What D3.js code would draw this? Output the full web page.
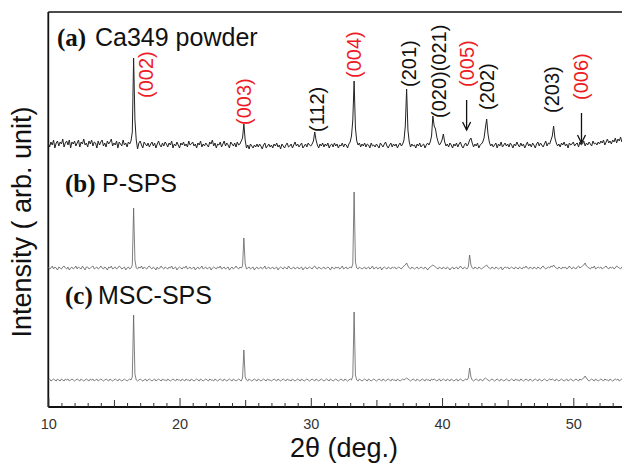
<!DOCTYPE html>
<html>
<head>
<meta charset="utf-8">
<script src="https://cdn.jsdelivr.net/npm/d3@7"></script>
<style>
  body { margin: 0; background: #fff; }
  svg { display: block; }
</style>
</head>
<body>
<svg id="chart" width="622" height="463"></svg>
<script>
// XRD patterns, sampled every 0.1 deg of 2θ from 10 to 54 deg (intensity, arb. unit)
const twoThetaStart = 10;
const twoThetaStep = 0.1;

const powder = [
  3,-1,4,1,6,-2,3,5,0,4,
  2,7,-1,3,5,1,6,-2,4,2,
  5,0,3,6,-1,4,2,7,1,3,
  -1,5,2,6,0,4,3,-2,5,1,
  4,6,0,3,-1,5,2,4,7,0,
  3,1,5,-2,4,2,0,6,1,3,
  -1,4,2,5,14,88,26,6,-3,3,
  5,1,-2,4,2,0,3,-1,2,4,
  0,3,-2,2,5,1,-1,3,0,4,
  2,-1,3,1,5,-2,2,0,4,1,
  -2,3,1,4,0,2,-1,5,1,2,
  4,0,2,-2,3,1,5,-1,2,0,
  3,1,-1,4,2,6,0,3,-2,2,
  1,4,-1,2,5,0,3,1,-2,4,
  2,0,3,-1,4,1,2,5,8,22,
  6,-2,1,-3,2,0,-2,1,-1,2,
  -1,2,0,-3,1,3,-2,0,2,-1,
  1,-2,2,0,3,-1,1,-3,2,0,
  -2,1,3,-1,0,2,-2,1,4,0,
  2,-1,1,3,-2,0,2,-1,3,1,
  0,2,5,14,6,1,-2,2,0,3,
  -1,2,0,3,-2,1,2,-1,3,0,
  2,-2,1,0,3,-1,2,1,-2,2,
  4,10,26,65,18,5,1,3,-1,2,
  0,3,-1,2,1,-2,3,0,1,-1,
  2,0,-2,3,1,-1,2,4,0,-2,
  1,3,-1,2,0,2,-2,1,3,0,
  2,6,20,57,16,4,-1,2,0,1,
  -2,2,0,3,-1,1,2,-2,1,3,
  1,4,10,30,20,17,9,4,1,3,
  6,12,4,0,2,-1,3,1,-2,2,
  0,3,-1,2,4,0,-2,1,3,0,
  2,6,8,3,-1,2,0,3,-2,1,
  2,4,8,18,27,12,4,0,2,-1,
  1,3,-2,2,0,4,-1,1,3,0,
  2,-1,3,1,-2,2,0,4,1,-1,
  3,0,2,-2,1,4,0,2,-1,3,
  1,-2,2,4,0,3,1,-1,2,5,
  0,3,2,6,10,20,8,3,0,2,
  -1,3,1,4,0,2,-2,3,1,2,
  4,0,2,3,-1,4,1,2,5,0,
  3,1,4,2,0,5,2,3,1,4,
  2,5,3,6,1,4,7,3,5,2,
  6,4,8,3,7,5,9,4,6,5,
  7
];

const pSps = [
  1,-1,0,2,-1,1,0,-2,1,0,
  -1,1,2,0,-1,1,-2,0,1,-1,
  0,2,-1,1,0,-1,2,0,-2,1,
  1,-1,0,1,2,-1,0,1,-1,0,
  2,0,-1,1,0,-2,1,0,2,-1,
  0,1,-1,0,2,1,-1,0,1,-2,
  0,1,-1,0,3,60,8,0,-1,1,
  0,2,-1,1,0,-1,1,2,0,-1,
  1,0,-2,1,-1,0,2,0,-1,1,
  0,-1,1,0,2,-1,0,1,-2,0,
  1,0,-1,1,0,2,-1,0,1,-1,
  0,1,-2,0,1,-1,0,2,-1,0,
  1,-1,0,1,-2,0,1,0,-1,1,
  0,2,-1,0,1,-1,0,1,-2,0,
  1,-1,0,2,0,-1,1,0,2,30,
  4,-1,0,1,-1,0,1,-2,0,1,
  -1,0,1,-1,0,2,-1,0,1,-1,
  0,1,-1,0,1,-2,0,1,0,-1,
  1,0,-1,2,0,-1,0,1,-1,0,
  1,-1,0,1,-2,0,1,-1,0,1,
  0,-1,1,2,0,-1,1,0,-1,0,
  1,-1,0,1,0,-2,1,0,-1,1,
  0,1,-1,0,2,-1,0,1,-1,0,
  1,0,4,76,6,0,-1,1,0,-1,
  0,1,-1,0,1,-1,0,2,-1,0,
  1,-1,0,1,-2,0,1,0,-1,1,
  0,-1,1,0,1,-1,0,1,0,-1,
  1,2,3,5,2,0,-1,1,0,-1,
  0,1,-1,0,1,0,-1,1,0,-2,
  0,1,2,3,2,1,0,-1,1,0,
  -1,1,0,-1,1,0,-2,0,1,-1,
  0,1,-1,0,2,0,-1,1,0,-1,
  1,13,3,0,-1,1,0,-1,1,0,
  -1,0,1,2,3,1,0,-1,1,0,
  -1,1,0,-1,0,1,-2,0,1,0,
  1,-1,0,1,0,-1,1,0,-1,1,
  0,-1,1,0,2,0,-1,1,0,-1,
  1,0,-1,1,0,-1,1,2,0,-1,
  0,1,0,2,1,3,1,0,-1,1,
  0,-1,1,0,1,-1,0,2,0,-1,
  1,0,-1,1,2,0,1,2,3,5,
  2,1,0,-1,1,0,2,-1,0,1,
  0,1,-1,0,1,2,0,-1,1,0,
  1,-1,0,2,1,0,-1,1,0,1,
  0
];

const mscSps = [
  0,1,-1,0,1,0,-1,1,0,-1,
  1,0,-1,1,0,1,-1,0,1,0,
  -1,0,1,0,-1,1,0,-1,0,1,
  0,-1,1,0,1,-1,0,1,-1,0,
  1,0,-1,0,1,0,-1,1,0,-1,
  0,1,0,-1,1,0,-1,0,1,0,
  -1,0,1,0,3,65,6,0,-1,0,
  1,0,-1,0,1,-1,0,1,0,-1,
  0,1,-1,0,1,0,-1,1,0,0,
  -1,1,0,-1,0,1,0,-1,1,0,
  0,-1,1,0,-1,1,0,0,-1,1,
  0,-1,0,1,0,-1,1,0,-1,0,
  1,0,-1,1,0,0,-1,1,0,-1,
  0,1,0,-1,1,0,-1,0,1,0,
  -1,1,0,-1,0,1,0,-1,2,30,
  3,0,-1,1,0,-1,0,1,0,-1,
  1,0,-1,0,1,0,-1,1,0,0,
  -1,0,1,0,-1,1,0,-1,0,1,
  0,-1,1,0,0,-1,1,0,-1,0,
  1,0,-1,1,0,-1,0,1,0,-1,
  0,1,0,-1,1,0,-1,0,1,0,
  -1,0,1,0,-1,1,0,-1,0,1,
  0,-1,0,1,0,-1,1,0,-1,0,
  1,0,4,68,5,0,-1,1,0,-1,
  0,1,0,-1,1,0,-1,0,1,0,
  -1,0,1,0,-1,1,0,-1,0,1,
  0,-1,1,0,0,-1,1,0,-1,0,
  1,0,1,2,1,0,-1,0,1,0,
  -1,1,0,-1,0,1,0,-1,1,0,
  0,-1,1,0,1,0,-1,0,1,-1,
  0,1,0,-1,1,0,-1,1,0,-1,
  0,1,-1,0,1,0,-1,0,1,0,
  2,12,3,0,-1,0,1,0,-1,1,
  0,-1,1,2,1,0,-1,0,1,0,
  -1,0,1,0,-1,1,0,-1,0,1,
  0,-1,0,1,0,-1,1,0,0,-1,
  1,0,-1,0,1,0,-1,1,0,-1,
  0,1,0,-1,1,0,-1,0,1,0,
  -1,0,1,0,1,0,-1,1,0,-1,
  0,1,0,-1,0,1,-1,0,1,0,
  -1,0,1,0,-1,1,0,1,2,4,
  2,0,-1,0,1,0,-1,1,0,-1,
  0,1,0,-1,1,0,0,-1,1,0,
  -1,0,1,0,1,-1,0,1,0,1,
  0
];

const seriesTags = ["(a)", "(b)", "(c)"];
const seriesNames = ["Ca349 powder", "P-SPS", "MSC-SPS"];
// vertical stacking offsets of the three patterns (arb. unit)
const seriesOffsets = [261, 139, 27];

// reflections indexed on the powder pattern
const hklLabels = ["(002)", "(003)", "(112)", "(004)", "(201)", "(020)(021)", "(005)", "(202)", "(203)", "(006)"];
const hklTwoTheta = [16.5, 24.9, 30.3, 33.3, 37.3, 39.3, 42.1, 43.4, 48.5, 50.7];
const hklArrowed = ["(005)", "(006)"];

const xTickValues = d3.range(10, 55, 1);
const xLabelValues = [10, 20, 30, 40, 50];

// ---- layout ----
const W = 622, H = 463;
const plot = { left: 48.3, top: 12, bottom: 407 };
const svg = d3.select("#chart");
const sans = "'Liberation Sans', Arial, Helvetica, sans-serif";
const serif = "'Liberation Serif', 'Times New Roman', Times, serif";
const red = "#ee1c25";

const x = d3.scaleLinear().domain([10, 60]).range([plot.left, plot.left + 50 * 13.125]);
const y = d3.scaleLinear().domain([0, 395]).range([plot.bottom, plot.top]);

// frame: top edge and left edge (right edge runs off the page)
svg.append("line")
  .attr("x1", plot.left).attr("x2", W + 5)
  .attr("y1", plot.top).attr("y2", plot.top)
  .attr("stroke", "#111").attr("stroke-width", 1.6);
svg.append("line")
  .attr("x1", plot.left).attr("x2", plot.left)
  .attr("y1", plot.top).attr("y2", plot.bottom)
  .attr("stroke", "#111").attr("stroke-width", 1.8);

// patterns
const allSeries = [powder, pSps, mscSps];
const strokes = [{ c: "#222", w: 1.0 }, { c: "#606060", w: 0.8 }, { c: "#606060", w: 0.8 }];
allSeries.forEach((vals, k) => {
  const line = d3.line()
    .x((d, i) => x(twoThetaStart + i * twoThetaStep))
    .y(d => y(seriesOffsets[k] + d));
  svg.append("path")
    .attr("d", line(vals))
    .attr("fill", "none")
    .attr("stroke", strokes[k].c)
    .attr("stroke-width", strokes[k].w)
    .attr("stroke-linejoin", "round");
});

// bottom axis with inward ticks
const xAxis = d3.axisBottom(x)
  .tickValues(xTickValues)
  .tickSizeInner(-4)
  .tickSizeOuter(0)
  .tickPadding(10)
  .tickFormat(d => xLabelValues.includes(d) ? d : "");
const gx = svg.append("g")
  .attr("transform", `translate(0,${plot.bottom})`)
  .call(xAxis);
gx.select(".domain").attr("stroke", "#111").attr("stroke-width", 2)
  .attr("d", `M${plot.left},0H${W + 5}`);
gx.selectAll(".tick line")
  .attr("stroke", "#333").attr("stroke-width", 1)
  .attr("y2", d => d % 10 === 0 ? -9 : d % 5 === 0 ? -7 : -4);
gx.selectAll(".tick text")
  .attr("fill", "#333")
  .style("font-family", sans).style("font-size", "14.5px")
  .attr("y", 12);

// axis titles
svg.append("text")
  .attr("x", 344).attr("y", 457)
  .attr("text-anchor", "middle")
  .style("font-family", sans).style("font-size", "27px").attr("fill", "#111")
  .text("2θ (deg.)");
svg.append("text")
  .attr("transform", "translate(31,222) rotate(-90)")
  .attr("text-anchor", "middle")
  .style("font-family", sans).style("font-size", "27px").attr("fill", "#111")
  .text("Intensity ( arb. unit)");

// panel captions
const captionPos = [{ x: 57, nx: 95, y: 46 }, { x: 65, nx: 102, y: 192 }, { x: 65, nx: 98, y: 304 }];
seriesNames.forEach((name, k) => {
  svg.append("text")
    .attr("x", captionPos[k].x).attr("y", captionPos[k].y)
    .style("font-family", serif).style("font-weight", "bold").style("font-size", "25px")
    .attr("fill", "#111")
    .text(seriesTags[k]);
  svg.append("text")
    .attr("x", captionPos[k].nx).attr("y", captionPos[k].y)
    .style("font-family", sans).style("font-size", "25px")
    .attr("fill", "#111")
    .text(name);
});

// reflection labels above the powder pattern
const labelNudge = [12, 0, 2, 0, 2, 6, -3, 0, -2, -1];      // px, horizontal
const labelLift = [48, 21, 14, 68, 59, 28, 59, 36, 33, 46];  // px above the powder baseline
const baseA = y(seriesOffsets[0]);
hklLabels.forEach((lab, i) => {
  const cx = x(hklTwoTheta[i]) + labelNudge[i];
  const by = baseA - labelLift[i];
  svg.append("text")
    .attr("transform", `translate(${cx},${by}) rotate(-90)`)
    .attr("dominant-baseline", "central")
    .style("font-family", sans).style("font-size", "20px")
    .attr("fill", lab.startsWith("(00") ? red : "#111")
    .text(lab);
  if (hklArrowed.includes(lab)) {
    const top = by + 13, bot = by + 43;
    svg.append("line")
      .attr("x1", cx).attr("x2", cx).attr("y1", top).attr("y2", bot)
      .attr("stroke", "#111").attr("stroke-width", 1.3);
    svg.append("path")
      .attr("d", `M${cx - 4},${bot - 8}L${cx},${bot}L${cx + 4},${bot - 8}`)
      .attr("fill", "none").attr("stroke", "#111").attr("stroke-width", 1.3);
  }
});
</script>
</body>
</html>
